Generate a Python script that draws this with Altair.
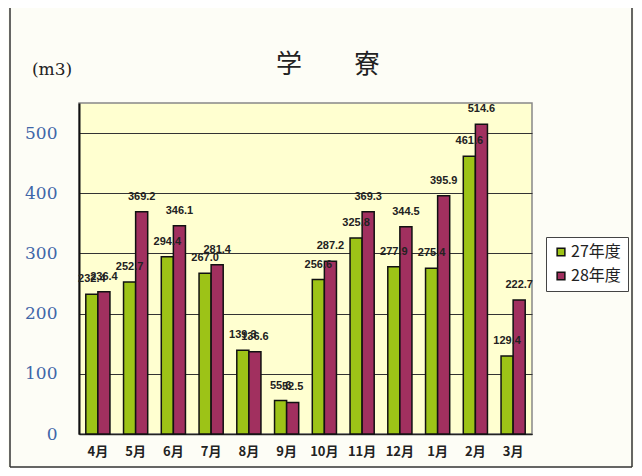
import altair as alt
import pandas as pd

months = ["4月", "5月", "6月", "7月", "8月", "9月", "10月", "11月", "12月", "1月", "2月", "3月"]
v27 = [232.4, 252.7, 294.4, 267.0, 139.3, 55.6, 256.6, 325.8, 277.9, 275.4, 461.6, 129.4]
v28 = [236.4, 369.2, 346.1, 281.4, 136.6, 52.5, 287.2, 369.3, 344.5, 395.9, 514.6, 222.7]
series = ["27年度", "28年度"]
y_ticks = [0, 100, 200, 300, 400, 500]

rows = []
for i, m in enumerate(months):
    rows.append({"month": m, "series": series[0], "value": v27[i]})
    rows.append({"month": m, "series": series[1], "value": v28[i]})
df = pd.DataFrame(rows)

W, H = 453, 331

x_enc = alt.X("month:N", sort=months, title=None,
              scale=alt.Scale(paddingInner=0.36, paddingOuter=0.18),
              axis=alt.Axis(labelAngle=0, labelFont="Noto Sans CJK JP", labelFontWeight="bold",
                            labelFontSize=13, labelColor="#222222", labelPadding=11,
                            ticks=False, domain=True, domainColor="#222222", domainWidth=1.5,
                            grid=False))
y_scale = alt.Scale(domain=[0, 550], nice=False)

bars = alt.Chart(df).mark_bar(stroke="#111111", strokeWidth=1.5).encode(
    x=x_enc,
    xOffset=alt.XOffset("series:N", sort=series, scale=alt.Scale(paddingInner=0, paddingOuter=0)),
    y=alt.Y("value:Q", scale=y_scale, title=None,
            axis=alt.Axis(values=y_ticks, labelFont="DejaVu Serif", labelFontSize=17,
                          labelColor="#3f66a8", labelPadding=22, ticks=False,
                          domain=True, domainColor="#111111", domainWidth=2,
                          grid=True, gridColor="#333333", gridWidth=1)),
    color=alt.Color("series:N", sort=series,
                    scale=alt.Scale(domain=series, range=["#9dc317", "#a1305f"]),
                    legend=alt.Legend(title=None, orient="none", legendX=467, legendY=134,
                                      symbolType="square", symbolSize=60,
                                      symbolStrokeColor="#111111", symbolStrokeWidth=1.5,
                                      labelFont="Noto Sans CJK JP", labelFontSize=16,
                                      labelColor="#222222", rowPadding=8,
                                      fillColor="#ffffff", strokeColor="#444444",
                                      padding=7, symbolOffset=0, labelOffset=2)),
)

labels = alt.Chart(df).mark_text(dy=-15, font="Liberation Sans", fontWeight="bold",
                                 fontSize=11, color="#222222").encode(
    x=alt.X("month:N", sort=months),
    xOffset=alt.XOffset("series:N", sort=series),
    y=alt.Y("value:Q", scale=y_scale),
    text=alt.Text("value:Q", format=".1f"),
)

title = alt.Chart(pd.DataFrame({"t": ["学　　寮"]})).mark_text(
    font="Noto Sans CJK JP", fontSize=26, color="#222222").encode(
    text="t:N", x=alt.value(249), y=alt.value(-38))
unit = alt.Chart(pd.DataFrame({"t": ["(m3)"]})).mark_text(
    font="DejaVu Serif", fontSize=17, color="#222222").encode(
    text="t:N", x=alt.value(-27), y=alt.value(-33))

frame_l = alt.Chart(pd.DataFrame({"a": [0]})).mark_rule(color="#333333", strokeWidth=1.5).encode(
    x=alt.value(-69), y=alt.value(-95), y2=alt.value(364))
frame_r = alt.Chart(pd.DataFrame({"a": [0]})).mark_rule(color="#333333", strokeWidth=1.5).encode(
    x=alt.value(553), y=alt.value(-95), y2=alt.value(364))
frame_b = alt.Chart(pd.DataFrame({"a": [0]})).mark_rule(color="#333333", strokeWidth=1.5).encode(
    x=alt.value(-69), x2=alt.value(553), y=alt.value(364))

chart = alt.layer(bars, labels, title, unit, frame_l, frame_r, frame_b).properties(
    width=W, height=H,
    autosize=alt.AutoSizeParams(type="none"),
    padding={"left": 71, "top": 95, "right": 102, "bottom": 34},
    background="#fdfdf6",
).configure_view(
    fill="#ffffd0", stroke="#888888", strokeWidth=1.5,
)

chart.save("out.html", embed_options={"renderer": "svg", "actions": False})
